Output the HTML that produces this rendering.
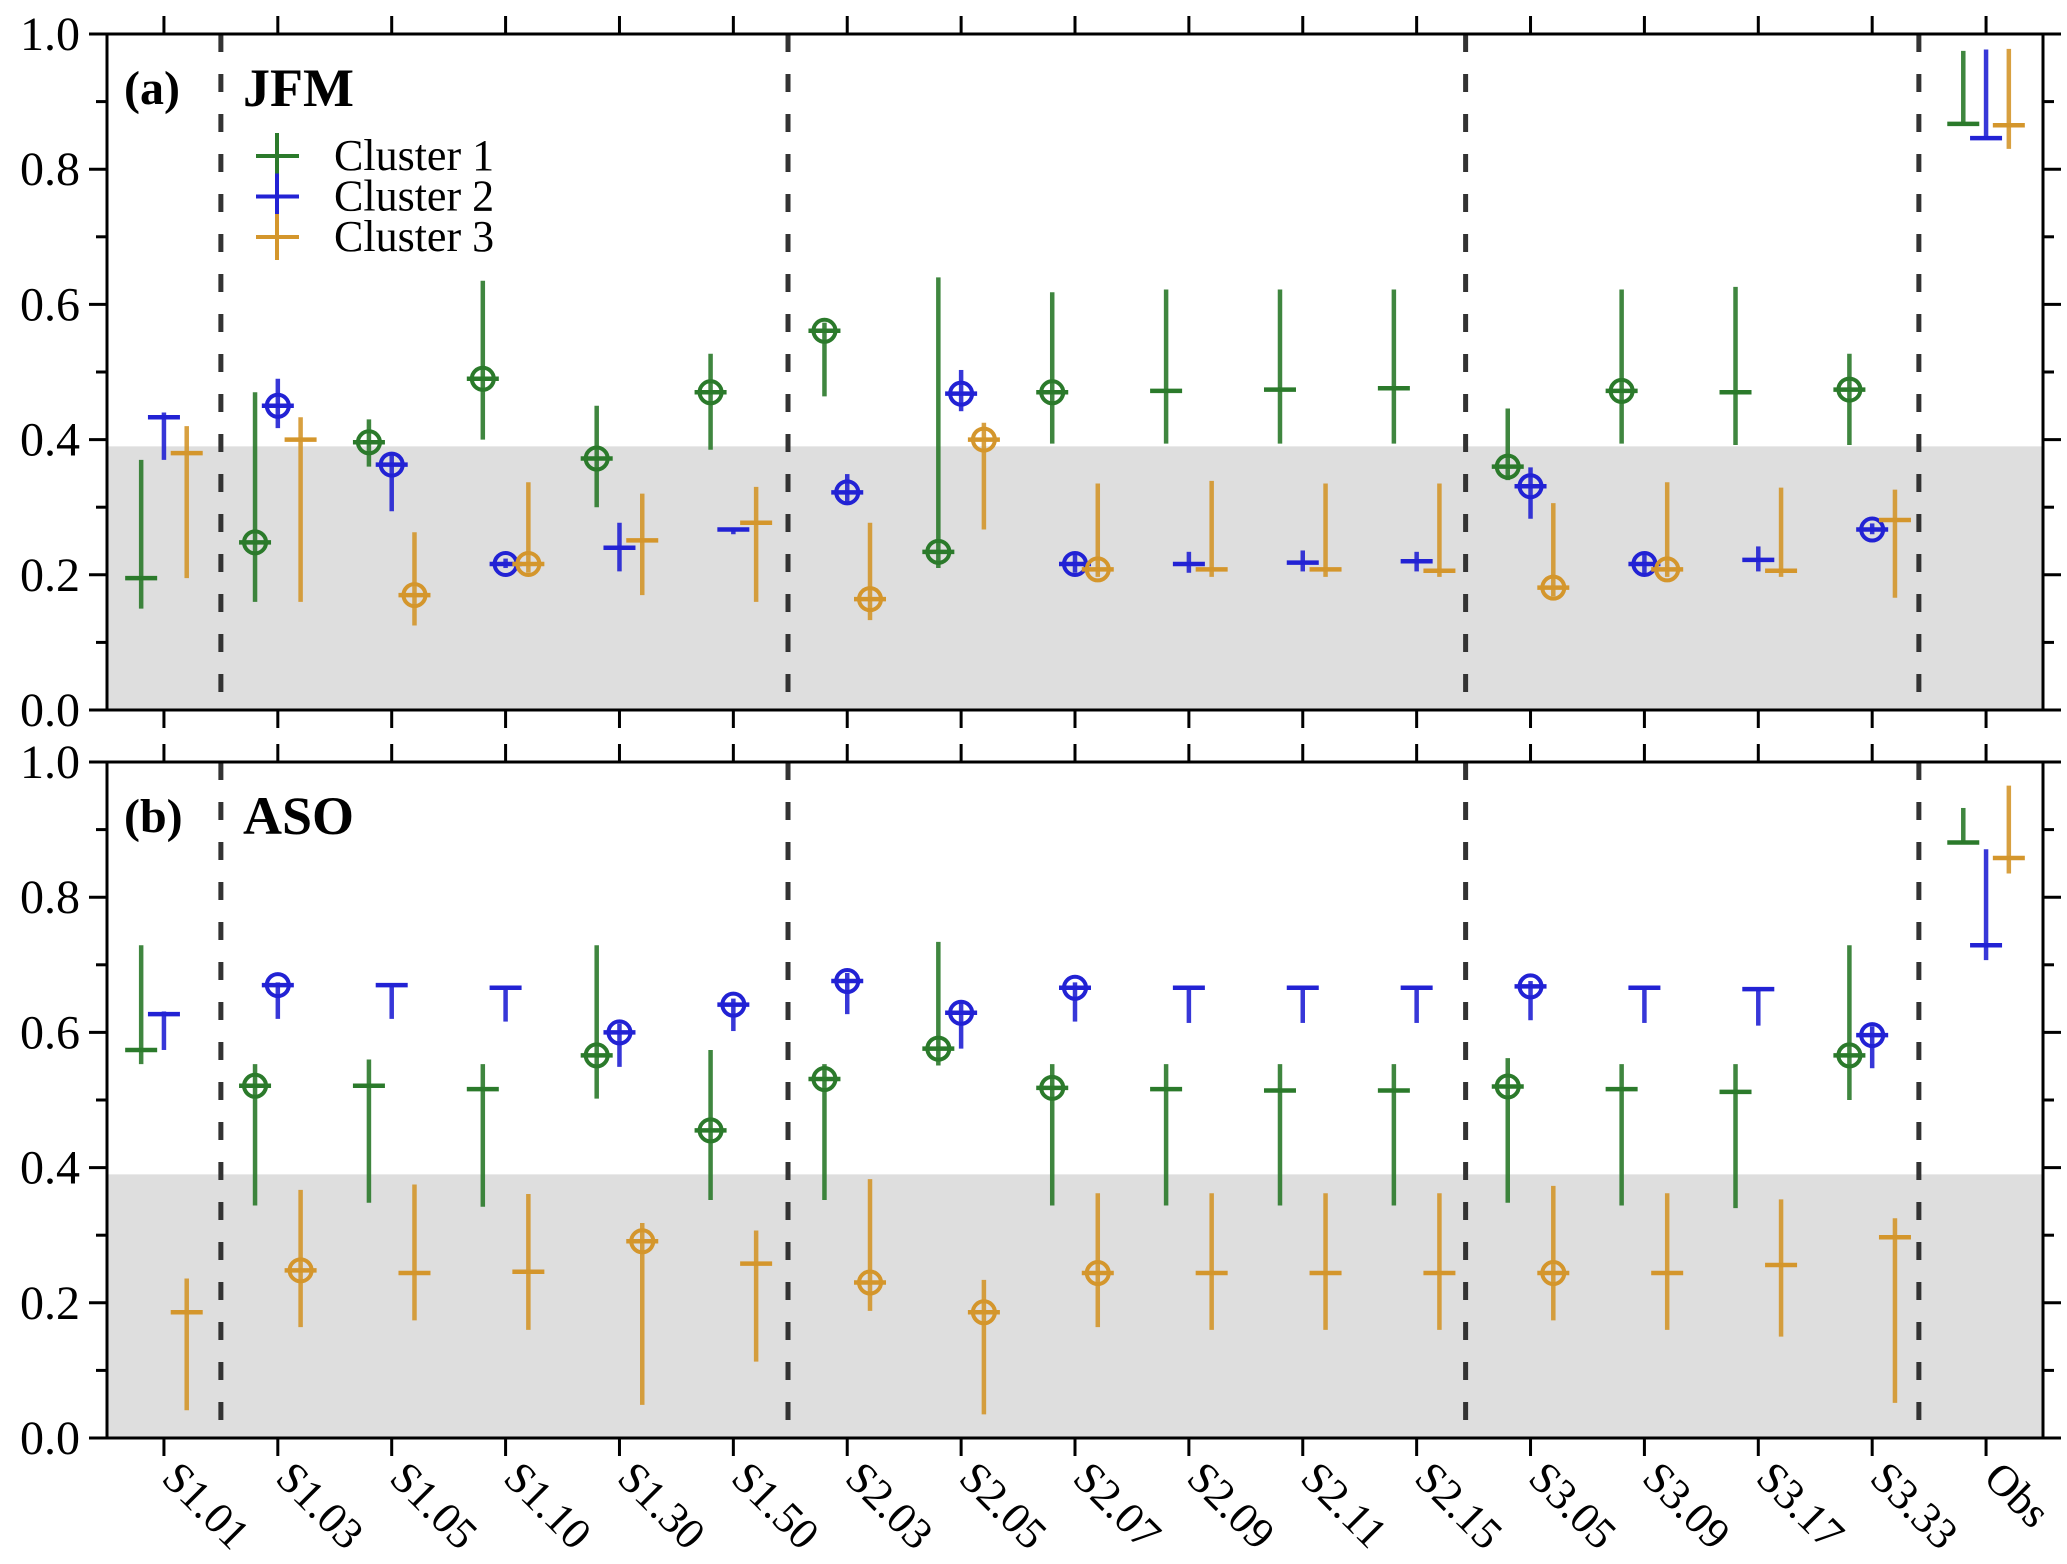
<!DOCTYPE html>
<html><head><meta charset="utf-8"><style>
html,body{margin:0;padding:0;background:#fff}
svg{display:block}
</style></head><body>
<svg id="chart" width="2067" height="1564" viewBox="0 0 2067 1564" xmlns="http://www.w3.org/2000/svg" font-family="'Liberation Serif', serif"></svg>
<script>
const categories=["S1.01","S1.03","S1.05","S1.10","S1.30","S1.50","S2.03","S2.05","S2.07","S2.09","S2.11","S2.15","S3.05","S3.09","S3.17","S3.33","Obs"];
const yTicks=[0,0.2,0.4,0.6,0.8,1.0];
const yTickLabels=["0.0","0.2","0.4","0.6","0.8","1.0"];
const separators=[0.5,5.48,11.43,15.41];
const grayBand=0.39;
// Panel a (JFM)
const a1Val=[0.195,0.248,0.396,0.49,0.372,0.47,0.561,0.234,0.47,0.472,0.474,0.476,0.36,0.472,0.47,0.474,0.867];
const a1Lo=[0.15,0.16,0.36,0.40,0.30,0.385,0.464,0.21,0.394,0.394,0.394,0.394,0.34,0.394,0.392,0.392,0.867];
const a1Hi=[0.37,0.47,0.43,0.635,0.45,0.527,0.573,0.64,0.618,0.622,0.622,0.622,0.446,0.622,0.626,0.527,0.975];
const a1Mark=[0,1,1,1,1,1,1,1,1,0,0,0,1,1,0,1,0];
const a2Val=[0.433,0.45,0.363,0.216,0.24,0.267,0.322,0.468,0.216,0.216,0.218,0.22,0.331,0.216,0.222,0.267,0.846];
const a2Lo=[0.37,0.417,0.294,0.21,0.205,0.26,0.308,0.442,0.203,0.203,0.205,0.205,0.283,0.201,0.205,0.26,0.846];
const a2Hi=[0.44,0.49,0.378,0.224,0.277,0.27,0.349,0.503,0.232,0.234,0.236,0.234,0.359,0.232,0.242,0.276,0.977];
const a2Mark=[0,1,1,1,0,0,1,1,1,0,0,0,1,1,0,1,0];
const a3Val=[0.38,0.40,0.17,0.216,0.251,0.277,0.164,0.40,0.208,0.208,0.208,0.206,0.181,0.208,0.206,0.281,0.865];
const a3Lo=[0.195,0.16,0.125,0.203,0.17,0.16,0.133,0.267,0.197,0.197,0.197,0.197,0.168,0.197,0.197,0.166,0.83];
const a3Hi=[0.42,0.433,0.263,0.337,0.32,0.33,0.277,0.425,0.335,0.339,0.335,0.335,0.306,0.337,0.329,0.326,0.978];
const a3Mark=[0,0,1,1,0,0,1,1,1,0,0,0,1,1,0,0,0];
// Panel b (ASO)
const b1Val=[0.574,0.521,0.521,0.516,0.566,0.455,0.531,0.576,0.518,0.516,0.514,0.514,0.52,0.516,0.512,0.566,0.881];
const b1Lo=[0.553,0.344,0.348,0.342,0.502,0.352,0.352,0.551,0.344,0.344,0.344,0.344,0.348,0.344,0.34,0.5,0.881];
const b1Hi=[0.729,0.553,0.56,0.553,0.729,0.574,0.553,0.734,0.553,0.553,0.553,0.553,0.562,0.553,0.553,0.729,0.932];
const b1Mark=[0,1,0,0,1,1,1,1,1,0,0,0,1,0,0,1,0];
const b2Val=[0.627,0.67,0.67,0.666,0.6,0.641,0.676,0.629,0.666,0.666,0.666,0.666,0.668,0.666,0.664,0.596,0.729];
const b2Lo=[0.574,0.62,0.62,0.616,0.549,0.602,0.627,0.576,0.616,0.614,0.614,0.614,0.618,0.614,0.61,0.547,0.707];
const b2Hi=[0.631,0.674,0.67,0.666,0.613,0.65,0.688,0.643,0.674,0.666,0.666,0.666,0.676,0.666,0.664,0.609,0.871];
const b2Mark=[0,1,0,0,1,1,1,1,1,0,0,0,1,0,0,1,0];
const b3Val=[0.186,0.248,0.244,0.246,0.291,0.258,0.23,0.186,0.244,0.244,0.244,0.244,0.244,0.244,0.256,0.297,0.858];
const b3Lo=[0.041,0.164,0.174,0.16,0.049,0.113,0.188,0.035,0.164,0.16,0.16,0.16,0.174,0.16,0.15,0.052,0.835];
const b3Hi=[0.236,0.367,0.375,0.361,0.318,0.307,0.383,0.234,0.362,0.362,0.362,0.362,0.373,0.362,0.353,0.325,0.965];
const b3Mark=[0,1,0,0,1,0,1,1,1,0,0,0,1,0,0,0,0];

const NS="http://www.w3.org/2000/svg";
const svg=document.getElementById('chart');
const L=107,R=2043,H=676;
const FONT="'Liberation Serif', serif";
const colors=["#2b7a2b","#2222d4","#d4962c"];
const offs=[-0.2,0,0.2];
function xS(i){return L+(i+0.5)*(R-L)/17;}
function mk(tag,attrs,parent){const e=document.createElementNS(NS,tag);for(const k in attrs)e.setAttribute(k,attrs[k]);(parent||svg).appendChild(e);return e;}

function drawPanel(top,series,tag,season,pname){
  const g=mk('g',{});
  
  
  const yS=v=>top+H-v*H;
  const band=mk('rect',{x:L,y:yS(grayBand),width:R-L,height:yS(0)-yS(grayBand),fill:"#dedede"},g);
  
  
  separators.forEach(s=>{
    const d=mk('line',{x1:xS(s),x2:xS(s),y1:top,y2:top+H,stroke:"#333",'stroke-width':5,'stroke-dasharray':"18 22"},g);
    
    
  });
  series.forEach((s,k)=>{
    const [val,lo,hi,mark]=s;
    categories.forEach((c,i)=>{
      const x=xS(i+offs[k]);
      const eg=mk('g',{},g);
      
      
      mk('line',{x1:x,x2:x,y1:yS(lo[i]),y2:yS(hi[i]),stroke:colors[k],'stroke-width':4.5,opacity:0.9},eg);
      mk('line',{x1:x-16,x2:x+16,y1:yS(val[i]),y2:yS(val[i]),stroke:colors[k],'stroke-width':4.5},eg);
      if(mark[i]) mk('circle',{cx:x,cy:yS(val[i]),r:11,fill:"none",stroke:colors[k],'stroke-width':4},eg);
    });
  });
  const fr=mk('rect',{x:L,y:top,width:R-L,height:H,fill:"none",stroke:"#000",'stroke-width':3},g);
  
  
  for(let t=0;t<=10;t++){
    const y=yS(t/10),len=(t%2===0)?18:11;
    mk('line',{x1:L-len,x2:L,y1:y,y2:y,stroke:"#000",'stroke-width':3},g);
    mk('line',{x1:R,x2:R+len,y1:y,y2:y,stroke:"#000",'stroke-width':3},g);
  }
  yTicks.forEach((t,j)=>{
    const tx=mk('text',{x:L-27,y:yS(t)+16,'text-anchor':'end','font-size':48,'font-family':FONT},g);
    tx.textContent=yTickLabels[j];
    
    
  });
  categories.forEach((c,i)=>{
    mk('line',{x1:xS(i),x2:xS(i),y1:top-18,y2:top,stroke:"#000",'stroke-width':3},g);
    mk('line',{x1:xS(i),x2:xS(i),y1:top+H,y2:top+H+18,stroke:"#000",'stroke-width':3},g);
  });
  const pl=mk('text',{x:124,y:top+70,'font-size':48,'font-weight':'bold','font-family':FONT},g);
  pl.textContent=tag;
  
  
  const sl=mk('text',{x:243,y:top+72,'font-size':54,'font-weight':'bold','font-family':FONT},g);
  sl.textContent=season;
  
  
  return yS;
}
drawPanel(34,[[a1Val,a1Lo,a1Hi,a1Mark],[a2Val,a2Lo,a2Hi,a2Mark],[a3Val,a3Lo,a3Hi,a3Mark]],"(a)","JFM","panel-jfm");
drawPanel(762,[[b1Val,b1Lo,b1Hi,b1Mark],[b2Val,b2Lo,b2Hi,b2Mark],[b3Val,b3Lo,b3Hi,b3Mark]],"(b)","ASO","panel-aso");

// x tick labels
categories.forEach((c,i)=>{
  const x=xS(i)-4,y=1480;
  const t=mk('text',{x:x,y:y,'font-size':44,'font-family':FONT,transform:`rotate(45 ${x} ${y})`});
  t.textContent=c;
  
  
});

// legend
const lg=mk('g',{});


["Cluster 1","Cluster 2","Cluster 3"].forEach((n,k)=>{
  const y=156+k*40.5;
  const e=mk('g',{},lg);
  
  
  mk('line',{x1:277,x2:277,y1:y-23,y2:y+23,stroke:colors[k],'stroke-width':4},e);
  mk('line',{x1:256,x2:299,y1:y,y2:y,stroke:colors[k],'stroke-width':4},e);
  const t=mk('text',{x:334,y:y+14,'font-size':44,'font-family':FONT},e);
  t.textContent=n;
});
</script>
</body></html>
